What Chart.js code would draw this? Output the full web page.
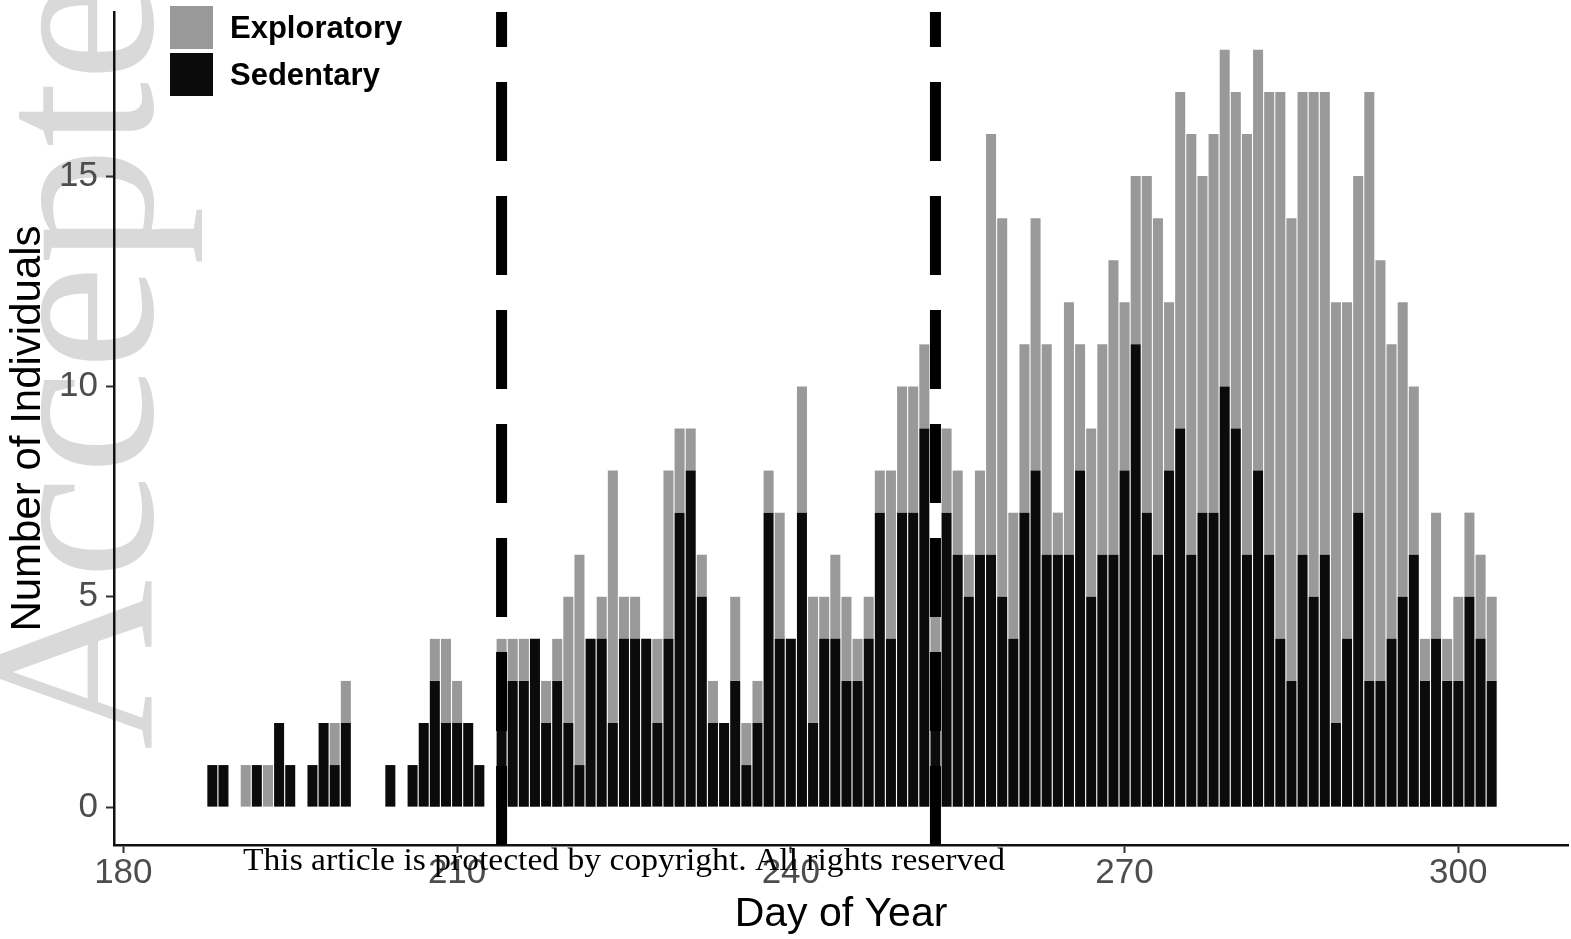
<!DOCTYPE html>
<html lang="en">
<head>
<meta charset="UTF-8">
<title>Exploratory and sedentary individuals by day of year</title>
<script src="https://cdn.jsdelivr.net/npm/chart.js@4.4.0/dist/chart.umd.min.js"></script>
<style>
    html, body { margin: 0; padding: 0; background: #fff; }
    #wrap { width: 1571px; height: 939px; }
</style>
</head>
<body>
<div id="wrap"><canvas id="myChart" width="1571" height="939"></canvas></div>
<script>
    // day of year for each bar
    const days = [
        188, 189, 190, 191, 192, 193, 194, 195, 196, 197,
        198, 199, 200, 201, 202, 203, 204, 205, 206, 207,
        208, 209, 210, 211, 212, 213, 214, 215, 216, 217,
        218, 219, 220, 221, 222, 223, 224, 225, 226, 227,
        228, 229, 230, 231, 232, 233, 234, 235, 236, 237,
        238, 239, 240, 241, 242, 243, 244, 245, 246, 247,
        248, 249, 250, 251, 252, 253, 254, 255, 256, 257,
        258, 259, 260, 261, 262, 263, 264, 265, 266, 267,
        268, 269, 270, 271, 272, 273, 274, 275, 276, 277,
        278, 279, 280, 281, 282, 283, 284, 285, 286, 287,
        288, 289, 290, 291, 292, 293, 294, 295, 296, 297,
        298, 299, 300, 301, 302, 303
    ];
    const sedentary = [
        1, 1, 0, 0, 1, 0, 2, 1, 0, 1,
        2, 1, 2, 0, 0, 0, 1, 0, 1, 2,
        3, 2, 2, 2, 1, 0, 3, 3, 3, 4,
        2, 3, 2, 1, 4, 4, 2, 4, 4, 4,
        2, 4, 7, 8, 5, 2, 2, 3, 1, 2,
        7, 4, 4, 7, 2, 4, 4, 3, 3, 4,
        7, 4, 7, 7, 9, 3, 7, 6, 5, 6,
        6, 5, 4, 7, 8, 6, 6, 6, 8, 5,
        6, 6, 8, 11, 7, 6, 8, 9, 6, 7,
        7, 10, 9, 6, 8, 6, 4, 3, 6, 5,
        6, 2, 4, 7, 3, 3, 4, 5, 6, 3,
        4, 3, 3, 5, 4, 3
    ];
    const exploratory = [
        0, 0, 0, 1, 0, 1, 0, 0, 0, 0,
        0, 1, 1, 0, 0, 0, 0, 0, 0, 0,
        1, 2, 1, 0, 0, 0, 1, 1, 1, 0,
        1, 1, 3, 5, 0, 1, 6, 1, 1, 0,
        2, 4, 2, 1, 1, 1, 0, 2, 1, 1,
        1, 3, 0, 3, 3, 1, 2, 2, 1, 1,
        1, 4, 3, 3, 2, 2, 2, 2, 1, 2,
        10, 9, 3, 4, 6, 5, 1, 6, 3, 4,
        5, 7, 4, 4, 8, 8, 4, 8, 10, 8,
        9, 8, 8, 10, 10, 11, 13, 11, 11, 12,
        11, 10, 8, 8, 14, 10, 7, 7, 4, 1,
        3, 1, 2, 2, 2, 2
    ];
    const xTicks = [180, 210, 240, 270, 300];
    const yTicks = [0, 5, 10, 15];
    const cutoffDays = [214, 253];

    const sansFamily = '"Liberation Sans", Arial, sans-serif';
    const serifFamily = '"Liberation Serif", "Times New Roman", serif';

    // big grey "Accepted" stamp behind everything
    const watermark = {
        id: 'watermark',
        beforeDraw(chart) {
            const ctx = chart.ctx;
            ctx.save();
            ctx.fillStyle = '#d9d9d9';
            ctx.font = '236px ' + serifFamily;
            ctx.textBaseline = 'alphabetic';
            ctx.translate(152, 750);
            ctx.rotate(-Math.PI / 2);
            ctx.fillText('Accepted', 0, 0);
            ctx.restore();
        }
    };

    // vertical dashed lines
    const cutoffLines = {
        id: 'cutoffLines',
        afterDatasetsDraw(chart) {
            const {ctx, chartArea, scales} = chart;
            ctx.save();
            ctx.strokeStyle = '#000';
            ctx.lineWidth = 11;
            ctx.setLineDash([79, 35]);
            cutoffDays.forEach(function (d) {
                const x = scales.x.getPixelForValue(d);
                ctx.beginPath();
                ctx.moveTo(x, chartArea.bottom);
                ctx.lineTo(x, chartArea.top);
                ctx.stroke();
            });
            ctx.restore();
        }
    };

    // legend in the top left corner, Exploratory first
    const legendBox = {
        id: 'legendBox',
        afterDraw(chart) {
            const ctx = chart.ctx;
            ctx.save();
            ctx.font = 'bold 31px ' + sansFamily;
            ctx.textBaseline = 'middle';
            [1, 0].forEach(function (di, i) {
                const ds = chart.data.datasets[di];
                const top = 6 + i * 47;
                ctx.fillStyle = ds.backgroundColor;
                ctx.fillRect(170, top, 43, 43);
                ctx.fillStyle = '#000';
                ctx.fillText(ds.label, 230, top + 23);
            });
            ctx.restore();
        }
    };

    const copyrightNote = {
        id: 'copyrightNote',
        afterDraw(chart) {
            const ctx = chart.ctx;
            const text = 'This article is protected by copyright. All rights reserved';
            ctx.save();
            ctx.font = '31px ' + serifFamily;
            const w = ctx.measureText(text).width;
            ctx.translate(243, 870);
            ctx.scale(762 / w, 1);
            ctx.fillStyle = '#000';
            ctx.textBaseline = 'alphabetic';
            ctx.fillText(text, 0, 0);
            ctx.restore();
        }
    };

    let ctx = document.getElementById('myChart').getContext('2d');
    let chart = new Chart(ctx, {
        type: 'bar',
        data: {
            datasets: [{
                label: 'Sedentary',
                data: days.map((d, i) => ({x: d, y: sedentary[i]})),
                backgroundColor: '#0b0b0b'
            }, {
                label: 'Exploratory',
                data: days.map((d, i) => ({x: d, y: exploratory[i]})),
                backgroundColor: '#999999'
            }]
        },
        options: {
            responsive: false,
            animation: false,
            devicePixelRatio: 1,
            layout: {padding: {top: 12, right: 3, bottom: 0, left: 0}},
            datasets: {bar: {categoryPercentage: 0.9, barPercentage: 1, borderWidth: 0}},
            plugins: {legend: {display: false}, tooltip: {enabled: false}},
            scales: {
                x: {
                    type: 'linear',
                    stacked: true,
                    offset: false,
                    min: 179.16,
                    max: 309.86,
                    afterBuildTicks: s => { s.ticks = xTicks.map(v => ({value: v})); },
                    afterFit: s => { s.height = 94; s.paddingLeft = 0; s.paddingRight = 0; },
                    grid: {offset: false, drawOnChartArea: false, drawTicks: true, tickLength: 8, tickColor: '#333', tickWidth: 2},
                    border: {display: true, color: '#111', width: 2.5},
                    ticks: {color: '#4d4d4d', font: {family: sansFamily, size: 35, lineHeight: 1.15}, padding: 0, maxRotation: 0, autoSkip: false},
                    title: {display: true, text: 'Day of Year', color: '#000', font: {family: sansFamily, size: 41}, padding: 0}
                },
                y: {
                    stacked: true,
                    min: -0.9,
                    max: 18.9,
                    afterBuildTicks: s => { s.ticks = yTicks.map(v => ({value: v})); },
                    afterFit: s => { s.width = 114; s.paddingTop = 0; s.paddingBottom = 0; },
                    grid: {drawOnChartArea: false, drawTicks: true, tickLength: 8, tickColor: '#333', tickWidth: 2},
                    border: {display: true, color: '#111', width: 2.5},
                    ticks: {color: '#4d4d4d', font: {family: sansFamily, size: 35}, padding: 8},
                    title: {display: true, text: 'Number of Individuals', color: '#000', font: {family: sansFamily, size: 42}, padding: {top: 3, bottom: 0}}
                }
            }
        },
        plugins: [watermark, cutoffLines, legendBox, copyrightNote]
    });
</script>
</body>
</html>
